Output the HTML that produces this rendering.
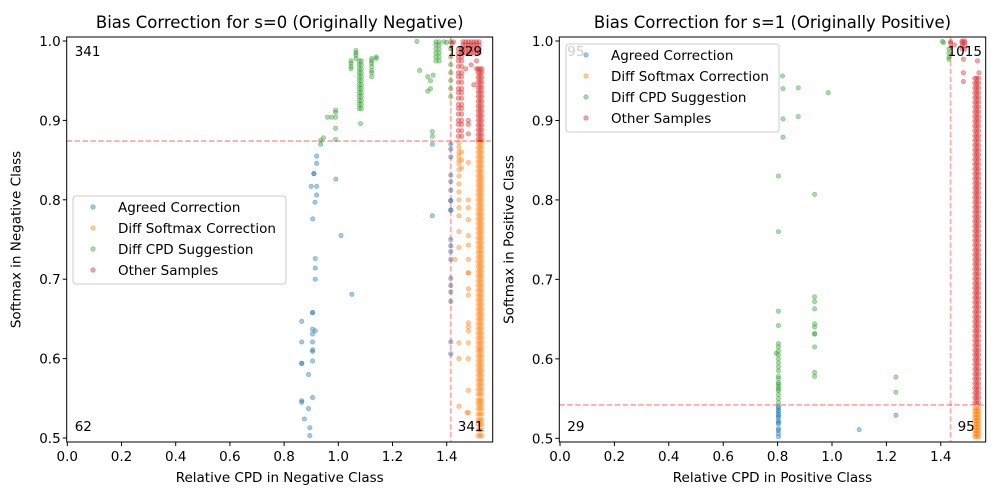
<!DOCTYPE html>
<html><head><meta charset="utf-8"><style>
body{margin:0;background:#fff;}
svg{display:block;font-family:"DejaVu Sans","Liberation Sans",sans-serif;}
</style></head><body>
<svg id="fig" width="1000" height="500" xmlns="http://www.w3.org/2000/svg">
<rect width="1000" height="500" fill="#fff"/>
<g id="gl"></g>
<g id="gr"></g>
</svg>
<script>
// ---------- data ----------
const xTicks=[0,0.2,0.4,0.6,0.8,1.0,1.2,1.4];
const xTickLabels=["0.0","0.2","0.4","0.6","0.8","1.0","1.2","1.4"];
const yTicks=[0.5,0.6,0.7,0.8,0.9,1.0];
const yTickLabels=["0.5","0.6","0.7","0.8","0.9","1.0"];
const seriesNames=["Agreed Correction","Diff Softmax Correction","Diff CPD Suggestion","Other Samples"];
const seriesColors=["#1f77b4","#ff7f0e","#2ca02c","#d62728"];
const leftThreshold=[1.415,0.874];
const rightThreshold=[1.436,0.542];
const leftCounts=["341","1329","62","341"];
const rightCounts=["95","1015","29","95"];

// left (s=0) points
const leftAgreed=[[0.865,0.647],[0.865,0.621],[0.865,0.594],[0.865,0.594],[0.865,0.547],[0.865,0.545],[0.875,0.524],[0.89,0.58],[0.89,0.537],[0.895,0.513],[0.895,0.503],[0.905,0.551],[0.905,0.597],[0.905,0.611],[0.905,0.609],[0.905,0.621],[0.905,0.631],[0.905,0.637],[0.905,0.658],[0.905,0.658],[0.915,0.635],[0.915,0.7],[0.915,0.714],[0.915,0.726],[1.05,0.681],[0.906,0.776],[0.914,0.797],[0.92,0.806],[0.92,0.817],[0.9,0.817],[0.91,0.833],[0.91,0.833],[0.92,0.846],[0.92,0.855],[0.935,0.87],[0.991,0.826],[1.01,0.755],[1.347,0.78],[1.347,0.87],
[1.415,0.606],[1.415,0.621],[1.415,0.672],[1.415,0.684],[1.415,0.692],[1.415,0.701],[1.415,0.725],[1.415,0.735],[1.415,0.742],[1.415,0.75],[1.415,0.787],[1.415,0.787],[1.415,0.799],[1.415,0.799],[1.415,0.812],[1.415,0.823],[1.415,0.831],[1.415,0.854],[1.415,0.864],[1.415,0.87]];
const leftSoftmax=[[1.445,0.78],[1.445,0.79],[1.445,0.8],[1.445,0.81],[1.445,0.82],[1.445,0.83],[1.445,0.838],[1.445,0.845],[1.445,0.85],[1.445,0.855],[1.445,0.86],[1.445,0.866],[1.445,0.872],[1.455,0.84],[1.455,0.85],[1.455,0.86],[1.43,0.725],[1.445,0.74],[1.445,0.62],[1.445,0.6],[1.445,0.54],[1.445,0.76],
[1.48,0.725],[1.48,0.708],[1.48,0.708],[1.48,0.688],[1.48,0.68],[1.48,0.645],[1.48,0.64],[1.48,0.635],[1.48,0.62],[1.48,0.60],[1.48,0.56],[1.48,0.532],[1.475,0.532],[1.48,0.847],[1.48,0.80],[1.48,0.79],[1.48,0.775],[1.48,0.755],[1.48,0.743]];
const leftSoftmaxColX=[1.516,1.523,1.53];
const leftSoftmaxColY=[0.503,0.51,0.517,0.523,0.53,0.537,0.543,0.548,0.555,0.561,0.567,0.573,0.579,0.585,0.591,0.597,0.603,0.609,0.614,0.62,0.626,0.632,0.638,0.644,0.65,0.656,0.662,0.668,0.674,0.68,0.686,0.692,0.698,0.704,0.71,0.716,0.722,0.728,0.734,0.74,0.746,0.752,0.758,0.764,0.77,0.776,0.782,0.788,0.794,0.8,0.806,0.812,0.818,0.824,0.83,0.836,0.842,0.848,0.854,0.86,0.866,0.872];
const leftCpd=[[0.935,0.875],[0.945,0.878],[0.96,0.904],[0.99,0.913],[0.99,0.91],[0.99,0.904],[0.99,0.89],[0.99,0.876],[0.975,0.904],[1.082,0.896],
[1.047,0.965],[1.047,0.968],[1.047,0.972],[1.047,0.975],[1.065,0.982],[1.065,0.985],[1.065,0.988],[1.065,0.978],
[1.123,0.955],[1.123,0.96],[1.123,0.963],[1.123,0.968],[1.123,0.972],[1.123,0.975],[1.123,0.978],[1.14,0.978],[1.14,0.98],
[1.29,0.9995],[1.30,0.963],[1.33,0.955],[1.34,0.95],[1.35,0.957],[1.34,0.94],[1.33,0.937],[1.347,0.886],[1.347,0.88],
[1.415,0.93],[1.415,0.94],[1.415,0.95],[1.415,0.96],[1.415,0.97],[1.415,0.98],[1.415,0.99],[1.415,0.999],[1.39,0.999],[1.40,0.998]];
const leftCpdColX=[1.077,1.085];
const leftCpdColY=[0.915,0.92,0.925,0.93,0.935,0.94,0.945,0.95,0.955,0.96,0.965,0.97,0.975];
const leftCpdCol2X=[1.36,1.372];
const leftCpdCol2Y=[0.975,0.98,0.985,0.99,0.995,0.999];
const leftOther=[[1.42,0.997],[1.425,0.999],[1.51,0.975],[1.51,0.965],[1.48,0.9],[1.48,0.895],[1.48,0.883],[1.50,0.945],[1.47,0.965],[1.49,0.97]];
const leftOtherColX=[1.516,1.523,1.53];
const leftOtherColY=[0.876,0.882,0.888,0.894,0.9,0.906,0.912,0.918,0.924,0.93,0.936,0.942,0.948,0.954,0.96,0.965];
const leftOtherCol2X=[1.443,1.455];
const leftOtherCol2Y=[0.88,0.887,0.895,0.9,0.908,0.915,0.92,0.928,0.935,0.94,0.948,0.955,0.96,0.968,0.975,0.98,0.985,0.99];
const leftOtherTopX=[1.46,1.47,1.48,1.49,1.50,1.51,1.52];
const leftOtherTopY=[0.985,0.99,0.995,0.999];

// right (s=1) points
const rightAgreed=[[0.803,0.502],[0.803,0.506],[0.803,0.512],[0.803,0.52],[0.803,0.522],[0.803,0.526],[0.803,0.53],[0.803,0.533],[0.803,0.535],[0.803,0.538],[0.803,0.54],[0.803,0.528],[0.803,0.518],[0.803,0.51],[1.10,0.511],[1.235,0.529]];
const rightSoftmaxColX=[1.525,1.532,1.539];
const rightSoftmaxColY=[0.502,0.506,0.51,0.514,0.518,0.522,0.526,0.53,0.534,0.538];
const rightCpd=[[0.803,0.6],[0.803,0.605],[0.803,0.61],[0.803,0.615],[0.803,0.619],[0.803,0.59],[0.803,0.585],[0.803,0.578],[0.803,0.57],[0.803,0.565],[0.803,0.56],[0.803,0.555],[0.803,0.55],[0.803,0.545],[0.803,0.595],[0.803,0.575],[0.803,0.568],[0.803,0.562],[0.803,0.66],[0.803,0.642],[0.803,0.76],[0.803,0.83],[0.795,0.607],
[0.82,0.94],[0.82,0.902],[0.82,0.879],[0.818,0.956],[0.876,0.941],[0.876,0.905],[0.936,0.807],[0.986,0.935],
[0.936,0.678],[0.936,0.672],[0.936,0.663],[0.936,0.644],[0.936,0.64],[0.936,0.632],[0.936,0.631],[0.936,0.615],[0.936,0.583],[0.936,0.578],
[1.235,0.577],[1.235,0.558],[1.406,0.9995],[1.41,0.998],[1.43,0.98],[1.43,0.977],[1.43,0.985],[1.43,0.99]];
const rightOther=[[1.436,0.999],[1.436,0.997],[1.45,0.995],[1.483,0.977],[1.483,0.96],[1.483,0.949],[1.535,0.975],[1.54,0.96]];
const rightOtherTopX=[1.478,1.488];
const rightOtherTopY=[0.99,0.994,0.998,1.0];
const rightOtherColX=[1.525,1.532,1.539];
const rightOtherColY=[0.545,0.551,0.557,0.563,0.569,0.575,0.581,0.587,0.593,0.599,0.605,0.611,0.617,0.623,0.629,0.635,0.641,0.647,0.653,0.659,0.665,0.671,0.677,0.683,0.689,0.695,0.701,0.707,0.713,0.719,0.725,0.731,0.737,0.743,0.749,0.755,0.761,0.767,0.773,0.779,0.785,0.791,0.797,0.803,0.809,0.815,0.821,0.827,0.833,0.839,0.845,0.851,0.857,0.863,0.869,0.875,0.881,0.887,0.893,0.899,0.905,0.911,0.917,0.923,0.929,0.935,0.941,0.947,0.953];

// ---------- drawing ----------
const NS="http://www.w3.org/2000/svg";
function mk(tag,attrs,parent){const e=document.createElementNS(NS,tag);for(const k in attrs)e.setAttribute(k,attrs[k]);parent.appendChild(e);return e;}
function expand(xs,ys){const o=[];ys.forEach(y=>xs.forEach(x=>o.push([x,y])));return o;}

function drawPlot(g,cfg){
  const sx=x=>cfg.x0+x*cfg.kx, sy=y=>cfg.y0+(1-y)*cfg.ky;
  const t=mk('text',{x:(cfg.L+cfg.R)/2,y:28,'text-anchor':'middle','font-size':'16.5px',fill:'#000'},g);
  t.textContent=cfg.title;
  
  
  cfg.series.forEach((pts,i)=>{
    const sg=mk('g',{},g);
    
    
    pts.forEach(p=>{
      const c=mk('circle',{cx:sx(p[0]),cy:sy(p[1]),r:2.2,fill:seriesColors[i],'fill-opacity':0.4,stroke:seriesColors[i],'stroke-opacity':0.4,'stroke-width':0.8},sg);
      
      
    });
  });
  const vl=mk('line',{x1:sx(cfg.th[0]),x2:sx(cfg.th[0]),y1:cfg.T,y2:cfg.B,stroke:'#ff0000','stroke-opacity':0.32,'stroke-width':1.8,'stroke-dasharray':'5.5,2.4'},g);
  
  
  const hl=mk('line',{x1:cfg.L,x2:cfg.R,y1:sy(cfg.th[1]),y2:sy(cfg.th[1]),stroke:'#ff0000','stroke-opacity':0.32,'stroke-width':1.8,'stroke-dasharray':'5.5,2.4'},g);
  
  
  const cpos=[[cfg.L+8,56,'#000'],[sx(cfg.th[0])-3,56,'#000'],[cfg.L+8,431,'#000'],[sx(cfg.th[0])+7,431,'#000']];
  cfg.counts.forEach((s,i)=>{
    const ct=mk('text',{x:cpos[i][0],y:cpos[i][1],'font-size':'13.5px',fill:cpos[i][2]},g);
    ct.textContent=s;
    
    
  });
  const fr=mk('rect',{x:cfg.L,y:cfg.T,width:cfg.R-cfg.L,height:cfg.B-cfg.T,fill:'none',stroke:'#000','stroke-width':1},g);
  
  
  xTicks.forEach((v,i)=>{
    const x=sx(v);
    mk('line',{x1:x,x2:x,y1:cfg.B,y2:cfg.B+4,stroke:'#000'},g);
    const tl=mk('text',{x:x,y:cfg.B+19,'text-anchor':'middle','font-size':'13.5px'},g);
    tl.textContent=xTickLabels[i];
    
    
  });
  yTicks.forEach((v,i)=>{
    const y=sy(v);
    mk('line',{x1:cfg.L-4,x2:cfg.L,y1:y,y2:y,stroke:'#000'},g);
    const tl=mk('text',{x:cfg.L-6,y:y+5,'text-anchor':'end','font-size':'13.5px'},g);
    tl.textContent=yTickLabels[i];
    
    
  });
  const xl=mk('text',{x:(cfg.L+cfg.R)/2,y:482,'text-anchor':'middle','font-size':'13.5px'},g);
  xl.textContent=cfg.xlabel;
  
  
  const ylx=cfg.L-46, ylc=(cfg.T+cfg.B)/2;
  const yl=mk('text',{x:ylx,y:ylc,'text-anchor':'middle','font-size':'13.5px',transform:'rotate(-90 '+ylx+' '+ylc+')'},g);
  yl.textContent=cfg.ylabel;
  
  
  const lg=mk('g',{},g);
  
  
  mk('rect',{x:cfg.leg[0],y:cfg.leg[1],width:213,height:88,rx:3,fill:'#fff','fill-opacity':0.8,stroke:'#ccc'},lg);
  seriesNames.forEach((n,i)=>{
    const cy=cfg.leg[1]+11+i*21;
    const e=mk('g',{},lg);
    
    
    mk('circle',{cx:cfg.leg[0]+20,cy:cy,r:2.2,fill:seriesColors[i],'fill-opacity':0.4,stroke:seriesColors[i],'stroke-opacity':0.4},e);
    const lt=mk('text',{x:cfg.leg[0]+45,y:cy+5,'font-size':'13.5px'},e);
    lt.textContent=n;
  });
}

drawPlot(document.getElementById('gl'),{
  L:66.7,R:492.7,T:37,B:442,x0:67.3,kx:271,y0:41,ky:794,
  title:"Bias Correction for s=0 (Originally Negative)",
  xlabel:"Relative CPD in Negative Class",ylabel:"Softmax in Negative Class",
  th:leftThreshold,counts:leftCounts,leg:[73,196],
  series:[leftAgreed,
    leftSoftmax.concat(expand(leftSoftmaxColX,leftSoftmaxColY)),
    leftCpd.concat(expand(leftCpdColX,leftCpdColY),expand(leftCpdCol2X,leftCpdCol2Y)),
    leftOther.concat(expand(leftOtherColX,leftOtherColY),expand(leftOtherCol2X,leftOtherCol2Y),expand(leftOtherTopX,leftOtherTopY))]
});
drawPlot(document.getElementById('gr'),{
  L:559.3,R:985.7,T:37,B:442,x0:560,kx:272,y0:41,ky:794.6,
  title:"Bias Correction for s=1 (Originally Positive)",
  xlabel:"Relative CPD in Positive Class",ylabel:"Softmax in Positive Class",
  th:rightThreshold,counts:rightCounts,leg:[566,44],
  series:[rightAgreed,
    expand(rightSoftmaxColX,rightSoftmaxColY),
    rightCpd,
    rightOther.concat(expand(rightOtherTopX,rightOtherTopY),expand(rightOtherColX,rightOtherColY))]
});
</script>
</body></html>
